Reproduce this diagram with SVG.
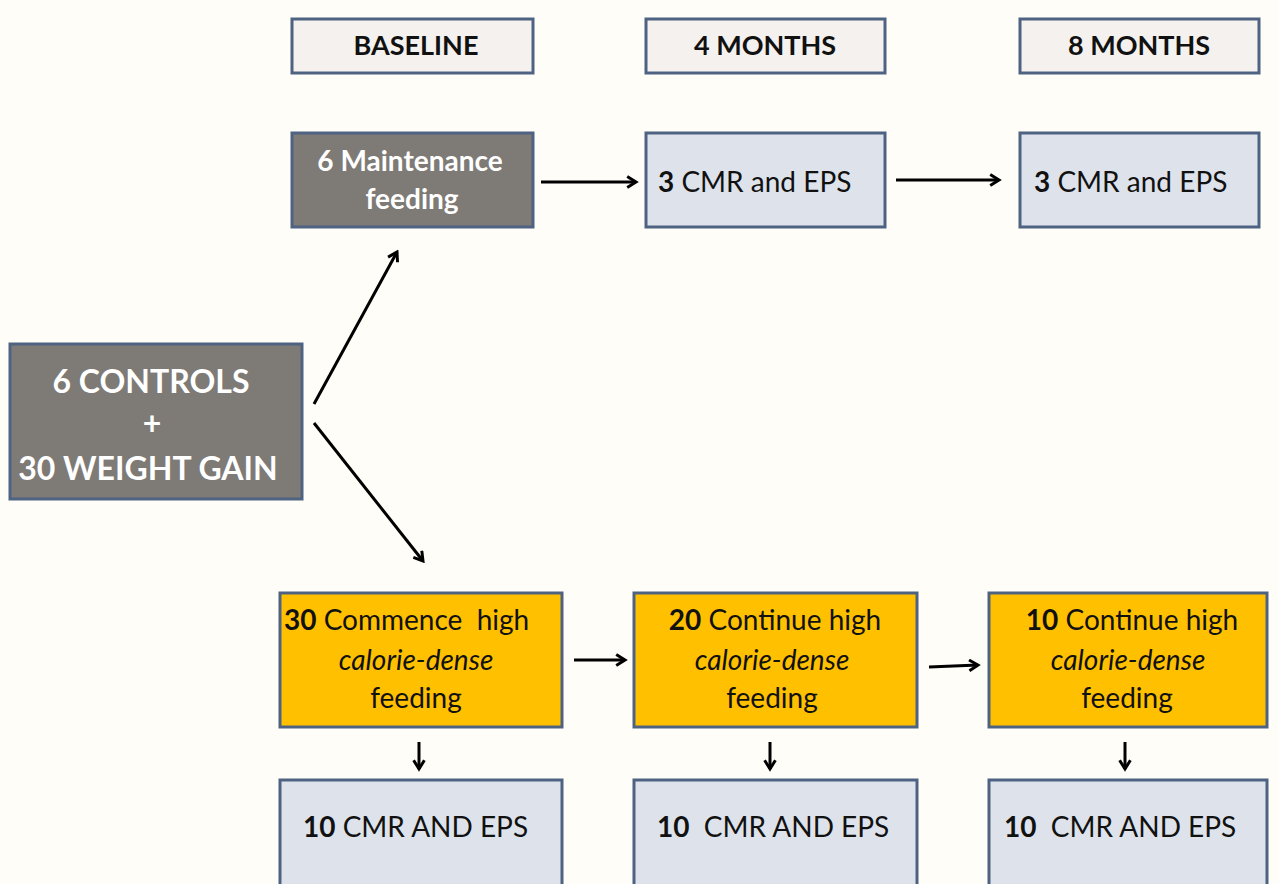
<svg xmlns="http://www.w3.org/2000/svg" width="1279" height="884" viewBox="0 0 1279 884">
<defs>
<style>
.box{stroke:#4e6282;stroke-width:3}
.hdr{fill:#f4f1ee}
.blu{fill:#dee3eb}
.gry{fill:#7e7a76}
.org{fill:#ffc000}
text{font-family:Lato,"Open Sans","Liberation Sans",sans-serif;fill:#111}
.b{font-weight:bold}
.w{fill:#fff}
.i{font-style:italic}
.conn line{stroke:#000;stroke-width:3;marker-end:url(#ah)}
</style>
<marker id="ah" viewBox="0 0 10 10" refX="8" refY="5" markerWidth="4.5" markerHeight="4.5" orient="auto" markerUnits="strokeWidth">
<path d="M1.5,1 L8,5 L1.5,9" fill="none" stroke="#000" stroke-width="2.2"/>
</marker>
</defs>
<rect width="1279" height="884" fill="#fffdf8"/>
<g id="h-baseline"><rect class="box hdr" x="292" y="19" width="241" height="54"/><text class="b" x="416" y="55" font-size="27" text-anchor="middle">BASELINE</text></g>
<g id="h-4m"><rect class="box hdr" x="646" y="19" width="239" height="54"/><text class="b" x="765" y="55" font-size="27" text-anchor="middle">4 MONTHS</text></g>
<g id="h-8m"><rect class="box hdr" x="1020" y="19" width="239" height="54"/><text class="b" x="1139" y="55" font-size="27" text-anchor="middle">8 MONTHS</text></g>
<g id="maint"><rect class="box gry" x="292" y="133" width="241" height="94"/><text class="b w" x="410" y="171" font-size="28" text-anchor="middle">6 Maintenance</text><text class="b w" x="412" y="209" font-size="28" text-anchor="middle">feeding</text></g>
<g id="cmr4"><rect class="box blu" x="646" y="133" width="239" height="94"/><text x="658" y="192" font-size="28"><tspan class="b">3</tspan> CMR and EPS</text></g>
<g id="cmr8"><rect class="box blu" x="1020" y="133" width="239" height="94"/><text x="1034" y="192" font-size="28"><tspan class="b">3</tspan> CMR and EPS</text></g>
<g id="start"><rect class="box gry" x="10" y="344" width="292" height="155"/><text class="b w" x="151" y="393" font-size="32" text-anchor="middle">6 CONTROLS</text><text class="b w" x="152" y="435" font-size="32" text-anchor="middle">+</text><text class="b w" x="148" y="480" font-size="32" text-anchor="middle">30 WEIGHT GAIN</text></g>
<g id="hc30"><rect class="box org" x="280" y="593" width="282" height="134"/><text x="284" y="630" font-size="28" xml:space="preserve"><tspan class="b">30</tspan> Commence  high</text><text class="i" x="416" y="670" font-size="28" text-anchor="middle">calorie-dense</text><text x="416" y="708" font-size="28" text-anchor="middle">feeding</text></g>
<g id="hc20"><rect class="box org" x="634" y="593" width="283" height="134"/><text x="775" y="630" font-size="28" text-anchor="middle"><tspan class="b">20</tspan> Continue high</text><text class="i" x="772" y="670" font-size="28" text-anchor="middle">calorie-dense</text><text x="772" y="708" font-size="28" text-anchor="middle">feeding</text></g>
<g id="hc10"><rect class="box org" x="989" y="593" width="278" height="134"/><text x="1132" y="630" font-size="28" text-anchor="middle"><tspan class="b">10</tspan> Continue high</text><text class="i" x="1128" y="670" font-size="28" text-anchor="middle">calorie-dense</text><text x="1127" y="708" font-size="28" text-anchor="middle">feeding</text></g>
<g id="m0"><rect class="box blu" x="280" y="780" width="282" height="120"/><text x="303" y="837" font-size="28"><tspan class="b">10</tspan> CMR AND EPS</text></g>
<g id="m4"><rect class="box blu" x="634" y="780" width="283" height="120"/><text x="657" y="837" font-size="28" xml:space="preserve"><tspan class="b">10</tspan>  CMR AND EPS</text></g>
<g id="m8"><rect class="box blu" x="989" y="780" width="278" height="120"/><text x="1004" y="837" font-size="28" xml:space="preserve"><tspan class="b">10</tspan>  CMR AND EPS</text></g>
<g class="conn" id="connectors">
<line x1="541" y1="182" x2="636" y2="182"/>
<line x1="896" y1="180" x2="999" y2="180"/>
<line x1="314" y1="404" x2="397" y2="252"/>
<line x1="314" y1="423" x2="423" y2="561"/>
<line x1="574" y1="660" x2="625" y2="660"/>
<line x1="929" y1="667" x2="978" y2="665"/>
<line x1="419" y1="742" x2="419" y2="769"/>
<line x1="770" y1="742" x2="770" y2="769"/>
<line x1="1125" y1="742" x2="1125" y2="769"/>
</g>
</svg>
